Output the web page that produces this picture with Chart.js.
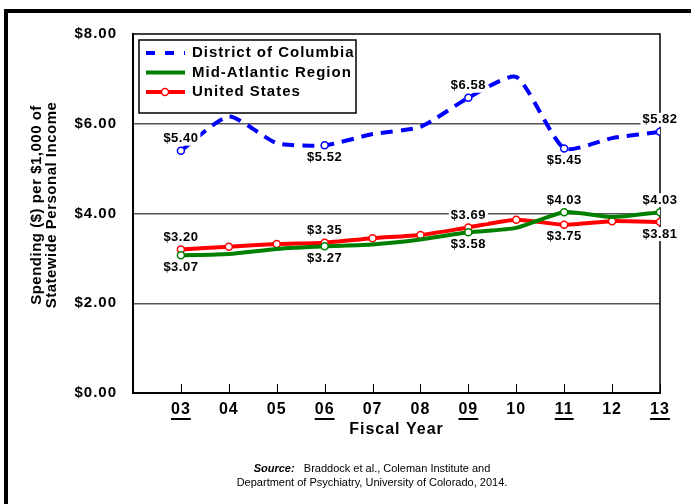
<!DOCTYPE html>
<html>
<head>
<meta charset="utf-8">
<script src="https://cdn.jsdelivr.net/npm/chart.js@4.4.0/dist/chart.umd.min.js"></script>
<style>
  html, body { margin: 0; padding: 0; background: #fff; }
</style>
</head>
<body>
<canvas id="myChart" width="691" height="504"></canvas>
<script>
// values
var years = ['03', '04', '05', '06', '07', '08', '09', '10', '11', '12', '13'];
var dcValues = [5.40, 6.16, 5.57, 5.52, 5.77, 5.93, 6.58, 7.04, 5.45, 5.68, 5.82];
var midAtlanticValues = [3.07, 3.10, 3.21, 3.27, 3.31, 3.42, 3.58, 3.68, 4.03, 3.92, 4.03];
var usValues = [3.20, 3.26, 3.32, 3.35, 3.45, 3.52, 3.69, 3.86, 3.75, 3.83, 3.81];
var yTicks = [0, 2, 4, 6, 8];
var shownYears = [0, 3, 6, 8, 10];   // years that are underlined and get value labels
var yTitle = ['Spending ($) per $1,000 of', 'Statewide Personal Income'];
var xTitle = 'Fiscal Year';
var sourceLabel = 'Source:';
var sourceText = ['Braddock et al., Coleman Institute and', 'Department of Psychiatry, University of Colorado, 2014.'];

function toPoints(values) {
  return values.map(function (v, i) {
    return { x: parseInt(years[i], 10), y: v };
  });
}

function onlyShown(r) {
  return function (c) { return shownYears.indexOf(c.dataIndex) >= 0 ? r : 0; };
}

var extras = {
  id: 'extras',
  beforeDraw: function (chart) {
    chart.ctx.letterSpacing = '1px';
  },
  beforeDatasetsDraw: function (chart) {
    var ctx = chart.ctx, a = chart.chartArea, xs = chart.scales.x;
    ctx.save();
    ctx.strokeStyle = '#000';
    ctx.lineWidth = 1.5;
    ctx.beginPath();
    ctx.moveTo(a.left, a.top); ctx.lineTo(a.right, a.top); ctx.lineTo(a.right, a.bottom);
    ctx.stroke();
    // small ticks inside the plot
    ctx.lineWidth = 1;
    xs.ticks.forEach(function (t) {
      var x = Math.round(xs.getPixelForValue(t.value)) + 0.5;
      ctx.beginPath(); ctx.moveTo(x, a.bottom); ctx.lineTo(x, a.bottom - 9); ctx.stroke();
    });
    ctx.restore();
  },
  afterDatasetsDraw: function (chart) {
    var ctx = chart.ctx;
    ctx.save();
    ctx.letterSpacing = '0.5px';
    ctx.font = 'bold 13px Arial, "Liberation Sans"';
    ctx.textAlign = 'center';
    ctx.textBaseline = 'middle';
    chart.data.datasets.forEach(function (ds, d) {
      var meta = chart.getDatasetMeta(d);
      ds.labelSide.forEach(function (side, k) {
        var i = shownYears[k];
        var pt = meta.data[i];
        var text = '$' + ds.data[i].y.toFixed(2);
        var y = side === 'up' ? pt.y - 12 : pt.y + 12;
        var w = ctx.measureText(text).width;
        ctx.fillStyle = '#fff';
        ctx.fillRect(pt.x - w / 2 - 2, y - 7, w + 4, 14);
        ctx.fillStyle = '#000';
        ctx.fillText(text, pt.x, y);
      });
    });
    ctx.restore();
  },
  afterDraw: function (chart) {
    var ctx = chart.ctx, a = chart.chartArea, xs = chart.scales.x;
    ctx.save();
    // outer frame
    ctx.fillStyle = '#000';
    ctx.fillRect(4, 9, 691, 4);
    ctx.fillRect(4, 9, 4, 504);

    // underlines below some years
    ctx.letterSpacing = '1px';
    ctx.font = 'bold 16px Arial, "Liberation Sans"';
    shownYears.forEach(function (i) {
      var x = xs.getPixelForValue(parseInt(years[i], 10));
      var w = ctx.measureText(years[i]).width;
      ctx.fillRect(x - w / 2, 418, w, 2);
    });

    // axis titles
    ctx.textAlign = 'center';
    ctx.textBaseline = 'middle';
    ctx.fillText(xTitle, (a.left + a.right) / 2, 430);
    ctx.save();
    ctx.font = 'bold 15px Arial, "Liberation Sans"';
    ctx.letterSpacing = '0.5px';
    ctx.translate(37, 205);
    ctx.rotate(-Math.PI / 2);
    ctx.fillText(yTitle[0], 0, 0);
    ctx.fillText(yTitle[1], 0, 15);
    ctx.restore();

    // legend
    var lx = 139, ly = 40;
    ctx.strokeStyle = '#000';
    ctx.lineWidth = 1.5;
    ctx.strokeRect(lx, ly, 217, 73);
    ctx.font = 'bold 15px Arial, "Liberation Sans"';
    ctx.textAlign = 'left';
    chart.data.datasets.forEach(function (ds, d) {
      var y = 53 + d * 19.5;
      ctx.save();
      ctx.strokeStyle = ds.borderColor;
      ctx.lineWidth = 4;
      ctx.setLineDash(ds.borderDash ? [9, 10] : []);
      ctx.beginPath(); ctx.moveTo(146, y); ctx.lineTo(185, y); ctx.stroke();
      ctx.restore();
      if (d === 2) {
        ctx.beginPath(); ctx.arc(165, y, 3.5, 0, Math.PI * 2);
        ctx.fillStyle = '#fff'; ctx.fill();
        ctx.lineWidth = 1.5; ctx.strokeStyle = ds.borderColor; ctx.stroke();
      }
      ctx.fillStyle = '#000';
      ctx.fillText(ds.label, 192, y);
    });

    // source
    ctx.letterSpacing = '0px';
    ctx.textAlign = 'left';
    ctx.font = 'bold italic 11px Arial, "Liberation Sans"';
    var w1 = ctx.measureText(sourceLabel + '   ').width;
    ctx.font = '11px Arial, "Liberation Sans"';
    var w2 = ctx.measureText(sourceText[0]).width;
    var sx = 372 - (w1 + w2) / 2;
    ctx.font = 'bold italic 11px Arial, "Liberation Sans"';
    ctx.fillText(sourceLabel, sx, 469);
    ctx.font = '11px Arial, "Liberation Sans"';
    ctx.fillText(sourceText[0], sx + w1, 469);
    ctx.textAlign = 'center';
    ctx.fillText(sourceText[1], 372, 483);
    ctx.restore();
  }
};

var config = {
  type: 'line',
  data: {
    datasets: [{
      label: 'District of Columbia',
      data: toPoints(dcValues),
      borderColor: '#0000ff',
      borderWidth: 4,
      borderDash: [12, 8],
      borderCapStyle: 'butt',
      tension: 0.2,
      pointRadius: onlyShown(3.5),
      pointBackgroundColor: '#fff',
      pointBorderColor: '#0000ff',
      pointBorderWidth: 1.5,
      labelSide: ['up', 'down', 'up', 'down', 'up']
    }, {
      label: 'Mid-Atlantic Region',
      data: toPoints(midAtlanticValues),
      borderColor: '#008000',
      borderWidth: 4,
      tension: 0.2,
      pointRadius: onlyShown(3.5),
      pointBackgroundColor: '#fff',
      pointBorderColor: '#008000',
      pointBorderWidth: 1.5,
      labelSide: ['down', 'down', 'down', 'up', 'up']
    }, {
      label: 'United States',
      data: toPoints(usValues),
      borderColor: '#ff0000',
      borderWidth: 4,
      tension: 0.2,
      pointRadius: 3.5,
      pointBackgroundColor: '#fff',
      pointBorderColor: '#ff0000',
      pointBorderWidth: 1.5,
      labelSide: ['up', 'up', 'up', 'down', 'down']
    }]
  },
  options: {
    responsive: false,
    animation: false,
    devicePixelRatio: 1,
    layout: { padding: { top: 34, right: 31, left: 0, bottom: 0 } },
    plugins: { legend: { display: false }, tooltip: { enabled: false } },
    scales: {
      x: {
        type: 'linear',
        min: 2,
        max: 13,
        afterBuildTicks: function (s) {
          s.ticks = years.map(function (y) { return { value: parseInt(y, 10) }; });
        },
        afterFit: function (s) { s.height = 111; },
        ticks: {
          padding: 7,
          color: '#000',
          font: { family: 'Arial, "Liberation Sans"', size: 16, weight: 'bold' },
          callback: function (v) {
            return years.filter(function (y) { return parseInt(y, 10) === v; })[0];
          }
        },
        grid: { drawOnChartArea: false, drawTicks: false },
        border: { display: true, color: '#000', width: 2 }
      },
      y: {
        min: 0,
        max: 8,
        afterBuildTicks: function (s) {
          s.ticks = yTicks.map(function (v) { return { value: v }; });
        },
        afterFit: function (s) { s.width = 133; },
        ticks: {
          padding: 16,
          color: '#000',
          font: { family: 'Arial, "Liberation Sans"', size: 15, weight: 'bold' },
          callback: function (v) { return '$' + v.toFixed(2); }
        },
        grid: {
          drawTicks: false,
          lineWidth: 1.5,
          color: function (c) {
            return (c.tick && (c.tick.value === 0 || c.tick.value === 8)) ? 'rgba(0,0,0,0)' : '#555';
          }
        },
        border: { display: true, color: '#000', width: 2 }
      }
    }
  },
  plugins: [extras]
};

var ctx = document.getElementById('myChart').getContext('2d');
window.myLine = new Chart(ctx, config);
</script>
</body>
</html>
